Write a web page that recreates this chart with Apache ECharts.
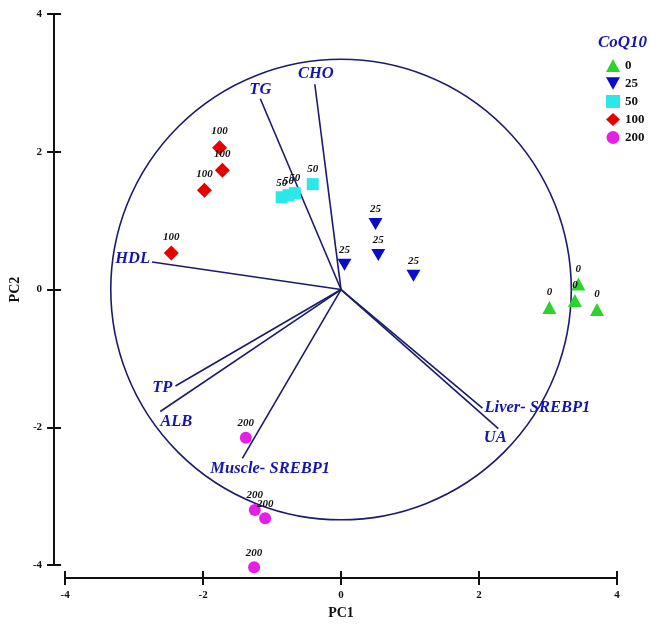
<!DOCTYPE html>
<html>
<head>
<meta charset="utf-8">
<script src="https://cdn.jsdelivr.net/npm/echarts@6/dist/echarts.min.js"></script>
<style>
html,body{margin:0;padding:0;background:#fff;}
#chart{width:650px;height:625px;}
</style>
</head>
<body>
<div id="chart"></div>
<script>
// ---- data ----
var groups = ['0', '25', '50', '100', '200'];
var pc1_g0 = [3.02, 3.44, 3.39, 3.71];
var pc2_g0 = [-0.26, 0.08, -0.16, -0.29];
var pc1_g25 = [0.05, 0.50, 0.54, 1.05];
var pc2_g25 = [0.36, 0.95, 0.50, 0.20];
var pc1_g50 = [-0.86, -0.76, -0.67, -0.41];
var pc2_g50 = [1.34, 1.37, 1.40, 1.53];
var pc1_g100 = [-1.76, -1.72, -1.98, -2.46];
var pc2_g100 = [2.06, 1.73, 1.44, 0.53];
var pc1_g200 = [-1.38, -1.25, -1.10, -1.26];
var pc2_g200 = [-2.15, -3.20, -3.32, -4.03];

var vecNames = ['TG', 'CHO', 'HDL', 'TP', 'ALB', 'Muscle- SREBP1', 'Liver- SREBP1', 'UA'];
var vecPC1 = [-1.17, -0.38, -2.74, -2.40, -2.62, -1.43, 2.05, 2.28];
var vecPC2 = [2.77, 2.98, 0.40, -1.40, -1.77, -2.45, -1.72, -2.02];

var circleRadius = 3.34;
var axisTicks = [-4, -2, 0, 2, 4];

// ---- styles ----
var SERIF = '"Liberation Serif","Times New Roman",serif';
var groupColors = ['#2bd42b', '#0c0cc8', '#2ae8e8', '#e60000', '#e61ee6'];
var groupSymbols = ['triangle', 'path://M0,0L20,0L10,18Z', 'rect', 'diamond', 'circle'];
var groupSizes = [[14, 13], [14, 12], [12, 12], [15, 15], [12, 12]];
var vecColor = '#1b1b6b';
var vecLabelColor = '#1515b0';
// label placement: [align, verticalAlign, dx, dy]
var vecLabelPos = {
  'TG': ['center', 'middle', 0, -9],
  'CHO': ['center', 'middle', 1, -11],
  'HDL': ['right', 'middle', -2, -3],
  'TP': ['right', 'middle', -3, 2],
  'ALB': ['left', 'middle', 0, 10],
  'Muscle- SREBP1': ['left', 'middle', -32, 10],
  'Liver- SREBP1': ['left', 'middle', 2, 0],
  'UA': ['center', 'middle', -3, 9]
};

var pcX = [pc1_g0, pc1_g25, pc1_g50, pc1_g100, pc1_g200];
var pcY = [pc2_g0, pc2_g25, pc2_g50, pc2_g100, pc2_g200];

function zip(a, b) { return a.map(function (v, i) { return [v, b[i]]; }); }

var series = [];

// correlation circle
series.push({
  type: 'custom',
  name: 'circle',
  clip: false,
  silent: true,
  data: [[0, 0]],
  renderItem: function (params, api) {
    var c = api.coord([0, 0]);
    var r = api.size([circleRadius, circleRadius]);
    return {
      type: 'circle',
      shape: { cx: c[0], cy: c[1], r: (r[0] + r[1]) / 2 },
      style: { fill: 'none', stroke: vecColor, lineWidth: 1.6 }
    };
  }
});

// loading vectors
series.push({
  type: 'custom',
  name: 'vectors',
  clip: false,
  silent: true,
  data: vecNames.map(function (n, i) { return [vecPC1[i], vecPC2[i], n]; }),
  renderItem: function (params, api) {
    var o = api.coord([0, 0]);
    var e = api.coord([api.value(0), api.value(1)]);
    var name = vecNames[params.dataIndex];
    var p = vecLabelPos[name];
    return {
      type: 'group',
      children: [
        {
          type: 'line',
          shape: { x1: o[0], y1: o[1], x2: e[0], y2: e[1] },
          style: { stroke: vecColor, lineWidth: 1.6 }
        },
        {
          type: 'text',
          x: e[0] + p[2],
          y: e[1] + p[3],
          style: {
            text: name,
            fill: vecLabelColor,
            font: 'italic bold 16.5px ' + SERIF,
            align: p[0],
            verticalAlign: p[1]
          }
        }
      ]
    };
  }
});

groups.forEach(function (g, i) {
  series.push({
    type: 'scatter',
    name: g,
    clip: false,
    symbol: groupSymbols[i],
    symbolSize: groupSizes[i],
    itemStyle: { color: groupColors[i], opacity: 1 },
    z: 5,
    label: {
      show: true,
      position: 'top',
      distance: 3,
      formatter: g,
      color: '#111',
      fontFamily: SERIF,
      fontStyle: 'italic',
      fontWeight: 'bold',
      fontSize: 11
    },
    data: zip(pcX[i], pcY[i])
  });
});

var axisCommon = {
  type: 'value',
  min: axisTicks[0],
  max: axisTicks[axisTicks.length - 1],
  interval: 2,
  splitLine: { show: false }
};

var option = {
  animation: false,
  backgroundColor: '#ffffff',
  title: {
    text: 'CoQ10',
    left: 593,
    top: 29,
    textStyle: {
      color: '#1515b0',
      fontFamily: SERIF,
      fontStyle: 'italic',
      fontWeight: 'bold',
      fontSize: 17
    }
  },
  legend: {
    data: groups,
    orient: 'vertical',
    left: 601,
    top: 54,
    itemWidth: 14,
    itemHeight: 13,
    itemGap: 5,
    textStyle: {
      color: '#111',
      fontFamily: SERIF,
      fontWeight: 'bold',
      fontSize: 13
    }
  },
  grid: { left: 62, right: 33, top: 14, bottom: 53 },
  xAxis: [
    Object.assign({}, axisCommon, {
      position: 'bottom',
      offset: 13,
      name: 'PC1',
      nameLocation: 'middle',
      nameGap: 21,
      nameTextStyle: { color: '#111', fontFamily: SERIF, fontWeight: 'bold', fontSize: 14 },
      axisLine: { show: true, onZero: false, lineStyle: { color: '#111', width: 2 } },
      axisTick: { show: true, length: 7, lineStyle: { color: '#111', width: 2 } },
      axisLabel: { margin: 12, color: '#111', fontFamily: SERIF, fontWeight: 'bold', fontSize: 11 }
    }),
    Object.assign({}, axisCommon, {
      position: 'bottom',
      offset: 13,
      axisLine: { show: false, onZero: false },
      axisTick: { show: true, inside: true, length: 7, lineStyle: { color: '#111', width: 2 } },
      axisLabel: { show: false }
    })
  ],
  yAxis: [
    Object.assign({}, axisCommon, {
      position: 'left',
      offset: 11,
      name: 'PC2',
      nameLocation: 'middle',
      nameGap: 26,
      nameTextStyle: { color: '#111', fontFamily: SERIF, fontWeight: 'bold', fontSize: 14 },
      axisLine: { show: true, onZero: false, lineStyle: { color: '#111', width: 2 } },
      axisTick: { show: true, length: 7, lineStyle: { color: '#111', width: 2 } },
      axisLabel: { margin: 12, color: '#111', fontFamily: SERIF, fontWeight: 'bold', fontSize: 11 }
    }),
    Object.assign({}, axisCommon, {
      position: 'left',
      offset: 11,
      axisLine: { show: false, onZero: false },
      axisTick: { show: true, inside: true, length: 7, lineStyle: { color: '#111', width: 2 } },
      axisLabel: { show: false }
    })
  ],
  series: series
};

var chart = echarts.init(document.getElementById('chart'), null, { renderer: 'canvas' });
chart.setOption(option);
</script>
</body>
</html>
